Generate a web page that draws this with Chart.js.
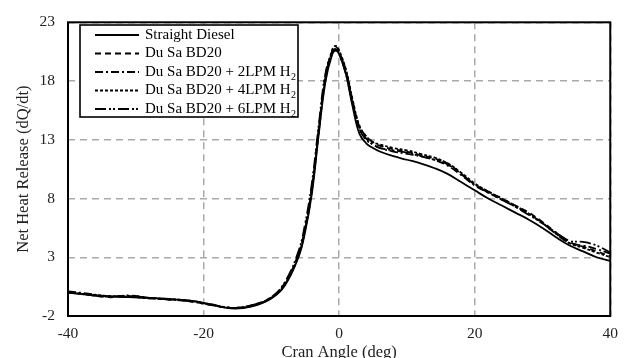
<!DOCTYPE html>
<html>
<head>
<meta charset="utf-8">
<script src="https://cdn.jsdelivr.net/npm/chart.js@4/dist/chart.umd.min.js"></script>
<style>
  html, body { margin: 0; padding: 0; background: #fff; }
  #wrap { width: 627px; height: 358px; }
</style>
</head>
<body>
<div id="wrap"><canvas id="hrr"></canvas></div>
<script>
// crank angle (deg), shared by all series
const angles = [-40,-37,-34,-31,-28,-25,-22,-19,-16,-13,-10,-8,-6,-5,-4,-3,-2,-1,-0.5,0,1,2,3,4,5,6,8,10,12,14,16,18,20,22,24,26,28,30,32,34,36,38,40];

const straightDiesel = [0.0,-0.2,-0.3,-0.4,-0.45,-0.55,-0.7,-1.0,-1.35,-1.2,-0.5,0.6,3.0,5.2,8.5,13.5,18.0,20.3,20.6,20.3,18.6,15.8,13.5,12.7,12.3,12.0,11.6,11.3,11.0,10.6,10.1,9.4,8.7,8.0,7.4,6.8,6.2,5.5,4.7,4.0,3.5,3.0,2.7];
const duSaBD20 = [0.05,-0.2,-0.4,-0.3,-0.5,-0.6,-0.75,-1.05,-1.3,-1.1,-0.4,0.8,3.3,5.6,9.0,14.0,18.5,20.6,20.9,20.5,18.9,16.3,14.1,13.3,12.8,12.5,12.2,12.0,11.7,11.4,11.0,10.1,9.2,8.6,8.0,7.4,6.8,6.0,5.1,4.3,3.9,3.5,3.1];
const bd20H2_2 = [0.1,-0.1,-0.35,-0.25,-0.45,-0.6,-0.7,-1.0,-1.3,-1.15,-0.45,0.7,3.2,5.5,8.8,13.8,18.3,20.5,20.7,20.4,18.8,16.1,14.0,13.1,12.6,12.3,12.0,11.8,11.6,11.3,10.8,10.0,9.1,8.5,7.9,7.3,6.7,5.9,5.0,4.2,4.0,3.7,3.3];
const bd20H2_4 = [0.0,-0.15,-0.3,-0.35,-0.5,-0.55,-0.7,-1.0,-1.3,-1.15,-0.45,0.7,3.1,5.4,8.8,13.7,18.2,20.7,21.0,20.6,19.0,16.4,14.2,13.3,12.8,12.6,12.3,12.1,11.8,11.5,11.0,10.2,9.3,8.6,8.0,7.4,6.7,5.9,5.0,4.2,3.8,3.4,3.0];
const bd20H2_6 = [0.0,-0.2,-0.35,-0.3,-0.45,-0.6,-0.75,-1.05,-1.3,-1.1,-0.4,0.9,3.5,5.9,9.4,14.3,18.7,20.5,20.7,20.3,18.6,16.0,13.9,13.0,12.6,12.3,12.1,11.9,11.6,11.3,10.9,10.1,9.2,8.5,7.9,7.3,6.6,5.9,5.1,4.4,4.3,4.0,3.4];

// legend text; "sub" is drawn as subscript
const seriesNames = [
  { text: 'Straight Diesel', sub: '' },
  { text: 'Du Sa BD20', sub: '' },
  { text: 'Du Sa BD20 + 2LPM H', sub: '2' },
  { text: 'Du Sa BD20 + 4LPM H', sub: '2' },
  { text: 'Du Sa BD20 + 6LPM H', sub: '2' }
];
const seriesValues = [straightDiesel, duSaBD20, bd20H2_2, bd20H2_4, bd20H2_6];
const dashes = [[], [6, 4], [8, 3, 2, 3], [3, 2], [11, 3, 2, 2, 2, 3]];

const yTicks = [-2, 3, 8, 13, 18, 23];
const xTicks = [-40, -20, 0, 20, 40];

const serif = '"Liberation Serif", "DejaVu Serif", serif';

const datasets = seriesValues.map((vals, i) => ({
  label: seriesNames[i].text + seriesNames[i].sub,
  data: angles.map((a, k) => ({ x: a, y: vals[k] })),
  borderColor: '#000',
  borderWidth: 1.8,
  borderDash: dashes[i],
  pointRadius: 0,
  tension: 0.4,
  fill: false
}));

// box around plot + legend box inside the plot
const framePlugin = {
  id: 'frame',
  afterDraw(chart) {
    const ctx = chart.ctx;
    const a = chart.chartArea;
    ctx.save();
    ctx.strokeStyle = '#000';
    ctx.lineWidth = 2;
    ctx.setLineDash([]);
    ctx.strokeRect(a.left, a.top, a.right - a.left, a.bottom - a.top);

    // legend
    const bx = 80, by = 25, bw = 218, bh = 92;
    ctx.fillStyle = '#fff';
    ctx.fillRect(bx, by, bw, bh);
    ctx.lineWidth = 1.6;
    ctx.strokeRect(bx, by, bw, bh);
    ctx.fillStyle = '#000';
    ctx.textBaseline = 'middle';
    seriesNames.forEach((s, i) => {
      const yy = 35 + i * 18.5;
      ctx.lineWidth = 1.8;
      ctx.setLineDash(dashes[i]);
      ctx.beginPath();
      ctx.moveTo(95, yy);
      ctx.lineTo(139, yy);
      ctx.stroke();
      ctx.setLineDash([]);
      ctx.font = '15px ' + serif;
      ctx.fillText(s.text, 145, yy);
      if (s.sub) {
        const w = ctx.measureText(s.text).width;
        ctx.font = '10px ' + serif;
        ctx.fillText(s.sub, 145 + w + 0.5, yy + 5);
      }
    });
    ctx.restore();
  }
};

new Chart(document.getElementById('hrr'), {
  type: 'line',
  data: { datasets },
  plugins: [framePlugin],
  options: {
    responsive: true,
    maintainAspectRatio: false,
    animation: false,
    layout: { padding: { left: 14, top: 11, right: 16, bottom: 0 } },
    plugins: { legend: { display: false }, tooltip: { enabled: false } },
    scales: {
      x: {
        type: 'linear',
        min: -40,
        max: 40,
        afterBuildTicks: (axis) => { axis.ticks = xTicks.map(v => ({ value: v })); },
        afterFit: (axis) => { axis.height = 42; },
        ticks: { color: '#222', font: { family: serif, size: 15.5 }, padding: 9, maxRotation: 0 },
        grid: { color: '#aaa', lineWidth: 1.5, drawTicks: false },
        border: { display: false, dash: [7, 5] },
        title: { display: true, text: 'Cran Angle (deg)', color: '#222', font: { family: serif, size: 16.5 }, padding: { top: 0, bottom: -5 } }
      },
      y: {
        min: -2,
        max: 23,
        afterBuildTicks: (axis) => { axis.ticks = yTicks.map(v => ({ value: v })); },
        afterFit: (axis) => { axis.width = 54; },
        ticks: { color: '#222', font: { family: serif, size: 15.5 }, padding: 13 },
        grid: { color: '#aaa', lineWidth: 1.5, drawTicks: false },
        border: { display: false, dash: [7, 5] },
        title: { display: true, text: 'Net Heat Release (dQ/dt)', color: '#222', font: { family: serif, size: 16.5 }, padding: { top: 0, bottom: 4 } }
      }
    }
  }
});
</script>
</body>
</html>
